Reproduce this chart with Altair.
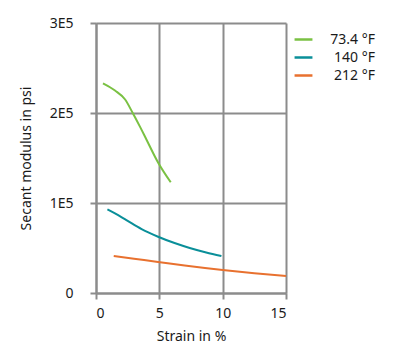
import altair as alt
import pandas as pd

series_names = ["73.4 °F", "140 °F", "212 °F"]
colors = ["#7AC143", "#0A8F99", "#E8712F"]

green_x = [0.55, 1.5, 2.3, 2.9, 3.5, 4.0, 4.9, 5.9]
green_y = [2.33e5, 2.25e5, 2.15e5, 2.0e5, 1.84e5, 1.70e5, 1.45e5, 1.23e5]

teal_x = [0.9, 1.5, 2.4, 3.6, 4.9, 6.2, 7.4, 8.7, 9.9]
teal_y = [0.93e5, 0.885e5, 0.81e5, 0.71e5, 0.625e5, 0.555e5, 0.50e5, 0.45e5, 0.41e5]

orange_x = [1.4, 3.0, 4.9, 7.0, 10.0, 12.5, 15.0]
orange_y = [0.41e5, 0.38e5, 0.345e5, 0.305e5, 0.255e5, 0.22e5, 0.19e5]

rows = []
for name, xs, ys in zip(series_names, [green_x, teal_x, orange_x], [green_y, teal_y, orange_y]):
    for i, (x, y) in enumerate(zip(xs, ys)):
        rows.append({"series": name, "strain": x, "modulus": y, "order": i})
df = pd.DataFrame(rows)

FONT = "Noto Sans"
GRID = "#8c8c8c"

chart = alt.Chart(df).mark_line(strokeWidth=2, interpolate="monotone").encode(
    x=alt.X("strain:Q", title="Strain in %",
            scale=alt.Scale(domain=[0, 15], nice=False),
            axis=alt.Axis(values=[0, 5, 10, 15], grid=True, gridColor=GRID, gridWidth=2,
                          domainColor=GRID, domainWidth=2, tickColor=GRID, tickWidth=2,
                          tickSize=6, labelPadding=7, titlePadding=9)),
    y=alt.Y("modulus:Q", title="Secant modulus in psi",
            scale=alt.Scale(domain=[0, 3e5], nice=False),
            axis=alt.Axis(values=[0, 1e5, 2e5, 3e5], grid=True, gridColor=GRID, gridWidth=2,
                          domainColor=GRID, domainWidth=2, tickColor=GRID, tickWidth=2,
                          tickSize=6, labelPadding=17, titlePadding=16,
                          labelExpr="datum.value == 0 ? '0' : format(datum.value / 100000, 'd') + 'E5'")),
    color=alt.Color("series:N", scale=alt.Scale(domain=series_names, range=colors),
                    sort=series_names,
                    legend=alt.Legend(title=None, orient="none", legendX=197, legendY=6,
                                      symbolType="stroke", symbolSize=320, symbolStrokeWidth=2.5,
                                      labelFontSize=14, labelFont=FONT, labelOffset=61,
                                      labelAlign="right",
                                      rowPadding=0, labelColor="#1a1a1a")),
    order="order:Q",
).properties(
    width=190, height=270,
    padding={"left": 88, "top": 15, "right": 100, "bottom": 60},
    autosize="none",
).configure_axis(
    labelFont=FONT, titleFont=FONT, labelFontSize=14, titleFontSize=14,
    labelColor="#1a1a1a", titleColor="#1a1a1a", titleFontWeight="normal",
).configure_view(stroke=None)

chart.save("out.html", embed_options={"renderer": "svg", "actions": False})
